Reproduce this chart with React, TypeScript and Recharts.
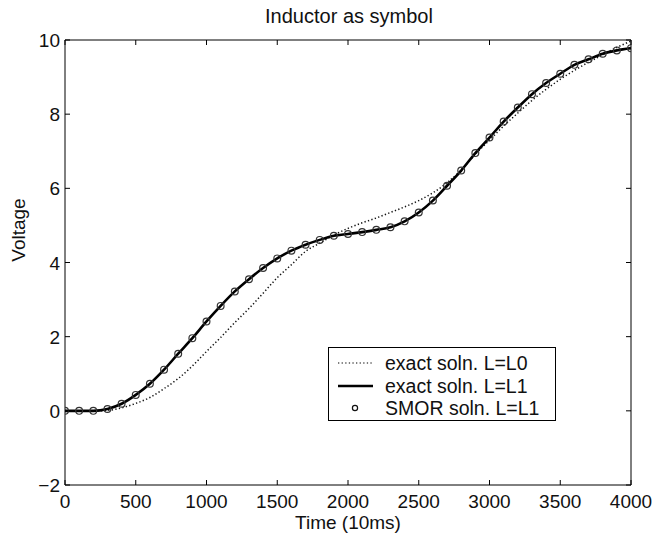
import React from 'react';
import { LineChart, Line, XAxis, YAxis } from 'recharts';

const times = [
  0, 100, 200, 300, 400, 500, 600, 700, 800, 900, 1000, 1100, 1200, 1300, 1400,
  1500, 1600, 1700, 1800, 1900, 2000, 2100, 2200, 2300, 2400, 2500, 2600, 2700,
  2800, 2900, 3000, 3100, 3200, 3300, 3400, 3500, 3600, 3700, 3800, 3900, 4000,
];

const exactL0 = [
  0, 0, 0, 0.01, 0.08, 0.2, 0.36, 0.6, 0.87, 1.21, 1.6, 1.98, 2.38, 2.76, 3.17,
  3.59, 3.94, 4.3, 4.52, 4.74, 4.92, 5.07, 5.2, 5.35, 5.5, 5.67, 5.88, 6.15,
  6.5, 6.92, 7.3, 7.68, 8.03, 8.37, 8.67, 8.94, 9.18, 9.4, 9.6, 9.8, 9.97,
];

const exactL1 = [
  0, 0, 0, 0.05, 0.19, 0.43, 0.73, 1.11, 1.54, 1.96, 2.41, 2.83, 3.22, 3.55, 3.85,
  4.11, 4.32, 4.48, 4.61, 4.72, 4.77, 4.82, 4.88, 4.95, 5.11, 5.35, 5.67, 6.07,
  6.48, 6.95, 7.37, 7.8, 8.18, 8.54, 8.84, 9.09, 9.33, 9.48, 9.63, 9.72, 9.78,
];

const smorL1 = [
  0, 0, 0, 0.05, 0.19, 0.43, 0.73, 1.11, 1.54, 1.96, 2.41, 2.83, 3.22, 3.55, 3.85,
  4.11, 4.32, 4.48, 4.61, 4.72, 4.77, 4.82, 4.88, 4.95, 5.11, 5.35, 5.67, 6.07,
  6.48, 6.95, 7.37, 7.8, 8.18, 8.54, 8.84, 9.09, 9.33, 9.48, 9.63, 9.72, 9.78,
];

const xTicks = [0, 500, 1000, 1500, 2000, 2500, 3000, 3500, 4000];
const yTicks = [-2, 0, 2, 4, 6, 8, 10];

const titleText = 'Inductor as symbol';
const xLabelText = 'Time (10ms)';
const yLabelText = 'Voltage';
const legendLabels = ['exact soln. L=L0', 'exact soln. L=L1', 'SMOR soln. L=L1'];

const data = times.map((t, i) => ({
  t,
  l0: exactL0[i],
  l1: exactL1[i],
  smor: smorL1[i],
}));

const FONT = '"Liberation Sans", Arial, Helvetica, sans-serif';
const FS = 19;
const TICK_LEN = 5;

const BottomTick = (props: any) => {
  const { x, y, payload } = props;
  return (
    <g>
      <line x1={x} y1={y} x2={x} y2={y - TICK_LEN} stroke="#000" strokeWidth={1} />
      <text x={x} y={y + 23} textAnchor="middle" fontFamily={FONT} fontSize={FS} fill="#111">
        {payload.value}
      </text>
    </g>
  );
};

const TopTick = (props: any) => {
  const { x, y } = props;
  return <line x1={x} y1={y} x2={x} y2={y + TICK_LEN} stroke="#000" strokeWidth={1} />;
};

const LeftTick = (props: any) => {
  const { x, y, payload } = props;
  const v = payload.value;
  const label = v < 0 ? '\u2212' + Math.abs(v) : String(v);
  return (
    <g>
      <line x1={x} y1={y} x2={x + TICK_LEN} y2={y} stroke="#000" strokeWidth={1} />
      <text x={x - 5} y={y + 7} textAnchor="end" fontFamily={FONT} fontSize={FS} fill="#111">
        {label}
      </text>
    </g>
  );
};

const RightTick = (props: any) => {
  const { x, y } = props;
  return <line x1={x} y1={y} x2={x - TICK_LEN} y2={y} stroke="#000" strokeWidth={1} />;
};

const SmorDot = (props: any) => {
  const { cx, cy, index } = props;
  if (cx == null || cy == null) return <g key={index} />;
  return <circle key={index} cx={cx} cy={cy} r={3.4} fill="none" stroke="#333" strokeWidth={1.2} />;
};

export default function App() {
  return (
    <div style={{ position: 'absolute', left: 0, top: 0, width: 671, height: 536, background: '#fff' }}>
      <LineChart
        width={671}
        height={536}
        data={data}
        margin={{ top: 20, right: 20, bottom: 21, left: 25 }}
      >
        <XAxis
          xAxisId="b"
          dataKey="t"
          type="number"
          domain={[0, 4000]}
          ticks={xTicks}
          orientation="bottom"
          height={30}
          tickSize={0}
          tickMargin={0}
          tickLine={false}
          axisLine={{ stroke: '#000', strokeWidth: 1 }}
          tick={<BottomTick />}
          interval={0}
          allowDataOverflow
        />
        <XAxis
          xAxisId="t"
          dataKey="t"
          type="number"
          domain={[0, 4000]}
          ticks={xTicks}
          orientation="top"
          height={20}
          tickSize={0}
          tickMargin={0}
          tickLine={false}
          axisLine={{ stroke: '#000', strokeWidth: 1 }}
          tick={<TopTick />}
          interval={0}
          allowDataOverflow
        />
        <YAxis
          yAxisId="l"
          type="number"
          domain={[-2, 10]}
          ticks={yTicks}
          orientation="left"
          width={40}
          tickSize={0}
          tickMargin={0}
          tickLine={false}
          axisLine={{ stroke: '#000', strokeWidth: 1 }}
          tick={<LeftTick />}
          interval={0}
          allowDataOverflow
        />
        <YAxis
          yAxisId="r"
          type="number"
          domain={[-2, 10]}
          ticks={yTicks}
          orientation="right"
          width={20}
          tickSize={0}
          tickMargin={0}
          tickLine={false}
          axisLine={{ stroke: '#000', strokeWidth: 1 }}
          tick={<RightTick />}
          interval={0}
          allowDataOverflow
        />
        <Line
          xAxisId="b"
          yAxisId="l"
          type="monotone"
          dataKey="l0"
          stroke="#111"
          strokeWidth={1.5}
          strokeDasharray="1.3 2.3"
          dot={false}
          activeDot={false}
          isAnimationActive={false}
        />
        <Line
          xAxisId="b"
          yAxisId="l"
          type="monotone"
          dataKey="l1"
          stroke="#000"
          strokeWidth={2.6}
          dot={false}
          activeDot={false}
          isAnimationActive={false}
        />
        <Line
          xAxisId="b"
          yAxisId="l"
          type="monotone"
          dataKey="smor"
          stroke="none"
          strokeWidth={0}
          dot={<SmorDot />}
          activeDot={false}
          isAnimationActive={false}
        />
      </LineChart>
      <svg
        width={671}
        height={536}
        style={{ position: 'absolute', left: 0, top: 0, pointerEvents: 'none' }}
      >
        <text x={349} y={23} textAnchor="middle" fontFamily={FONT} fontSize={20} fill="#111">
          {titleText}
        </text>
        <text x={348} y={529} textAnchor="middle" fontFamily={FONT} fontSize={FS} fill="#111">
          {xLabelText}
        </text>
        <text
          x={25}
          y={230}
          textAnchor="middle"
          fontFamily={FONT}
          fontSize={FS}
          fill="#111"
          transform="rotate(-90 25 230)"
        >
          {yLabelText}
        </text>
        <g>
          <rect x={328.5} y={347.5} width={227} height={73} fill="#fff" stroke="#000" strokeWidth={1} />
          <line x1={338} y1={363} x2={373} y2={363} stroke="#555" strokeWidth={1.3} strokeDasharray="1.3 2.3" />
          <text x={385} y={369.5} fontFamily={FONT} fontSize={19.5} fill="#111">{legendLabels[0]}</text>
          <line x1={338} y1={386} x2={373} y2={386} stroke="#000" strokeWidth={2.6} />
          <text x={385} y={392.5} fontFamily={FONT} fontSize={19.5} fill="#111">{legendLabels[1]}</text>
          <circle cx={355} cy={408} r={2.6} fill="none" stroke="#111" strokeWidth={1.2} />
          <text x={385} y={414.5} fontFamily={FONT} fontSize={19.5} fill="#111">{legendLabels[2]}</text>
        </g>
      </svg>
    </div>
  );
}
